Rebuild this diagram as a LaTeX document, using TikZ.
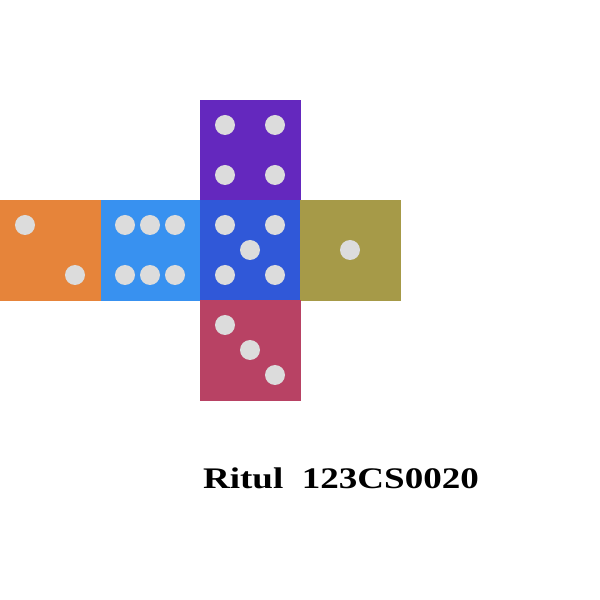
\documentclass[tikz,border=0pt]{standalone}
\usepackage{xcolor}
\usepackage{fontspec}
\setmainfont{Liberation Serif}
\usepackage{tikz}
\usetikzlibrary{positioning}

\definecolor{faceorange}{RGB}{230,132,58}
\definecolor{facesky}{RGB}{56,145,240}
\definecolor{faceblue}{RGB}{48,88,216}
\definecolor{facepurple}{RGB}{100,40,190}
\definecolor{faceolive}{RGB}{166,154,72}
\definecolor{facered}{RGB}{184,66,100}
\definecolor{pipgray}{RGB}{220,220,220}

\begin{document}
\begin{tikzpicture}[x=1cm, y=1cm,
    pip/.style={fill=pipgray}]
  \useasboundingbox (0,0) rectangle (6,6);
  % ---------------- faces of the net ----------------
  \fill[faceorange] (0,2.99) rectangle (1.01,4);
  \fill[facesky]    (1.01,2.99) rectangle (2.01,4);
  \fill[facepurple] (2,3.99) rectangle (3.01,5);
  \fill[faceblue]   (2,2.99) rectangle (3.01,4);
  \fill[faceolive]  (3,2.99) rectangle (4.01,4);
  \fill[facered]    (2,1.99) rectangle (3.01,3);
  % ---------------- pips ----------------
  % two (orange)
  \fill[pip] (0.25,3.75) circle (0.1);
  \fill[pip] (0.75,3.25) circle (0.1);
  % six (sky)
  \fill[pip] (1.25,3.75) circle (0.1);
  \fill[pip] (1.50,3.75) circle (0.1);
  \fill[pip] (1.75,3.75) circle (0.1);
  \fill[pip] (1.25,3.25) circle (0.1);
  \fill[pip] (1.50,3.25) circle (0.1);
  \fill[pip] (1.75,3.25) circle (0.1);
  % five (blue, centre)
  \fill[pip] (2.25,3.75) circle (0.1);
  \fill[pip] (2.75,3.75) circle (0.1);
  \fill[pip] (2.50,3.50) circle (0.1);
  \fill[pip] (2.25,3.25) circle (0.1);
  \fill[pip] (2.75,3.25) circle (0.1);
  % four (purple)
  \fill[pip] (2.25,4.75) circle (0.1);
  \fill[pip] (2.75,4.75) circle (0.1);
  \fill[pip] (2.25,4.25) circle (0.1);
  \fill[pip] (2.75,4.25) circle (0.1);
  % one (olive)
  \fill[pip] (3.50,3.50) circle (0.1);
  % three (red)
  \fill[pip] (2.25,2.75) circle (0.1);
  \fill[pip] (2.50,2.50) circle (0.1);
  \fill[pip] (2.75,2.25) circle (0.1);
  % caption
  \node[font=\bfseries\fontsize{8.5}{10}\selectfont, xscale=1.24,
        anchor=base, inner sep=0pt] (caption) at (3.41,1.115) {Ritul\ \ 123CS0020};
\end{tikzpicture}
\end{document}
